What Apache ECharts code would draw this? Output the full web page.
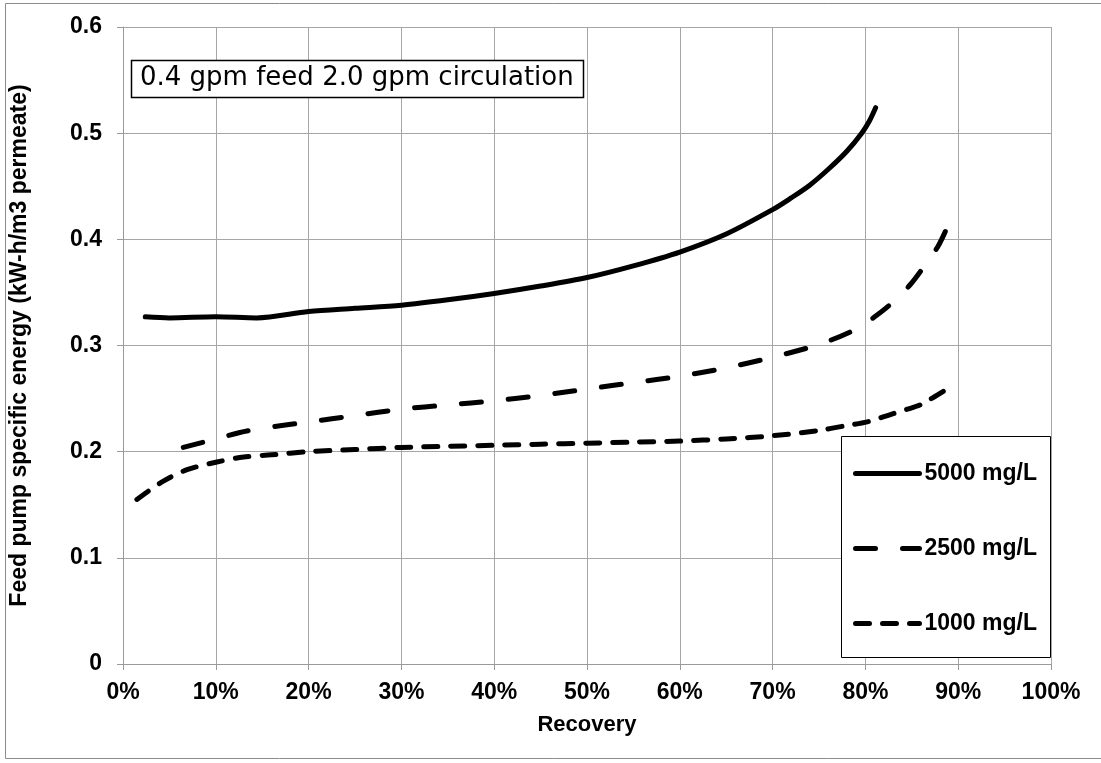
<!DOCTYPE html>
<html>
<head>
<meta charset="utf-8">
<script src="https://cdn.jsdelivr.net/npm/echarts@6/dist/echarts.min.js"></script>
<style>
html,body{margin:0;padding:0;background:#fff;}
#chart{width:1101px;height:763px;}
</style>
</head>
<body>
<div id="chart"></div>
<script>
// Recovery (%) and specific energy (kW-h/m3 permeate)
const recovery5000 = [2.4, 5, 10, 14.4, 20, 25, 30, 35, 40, 45, 50, 55, 60, 65, 70, 72, 74, 76, 78, 79.6, 80.4, 81.1];
const energy5000   = [0.327, 0.326, 0.327, 0.326, 0.332, 0.335, 0.338, 0.343, 0.349, 0.356, 0.364, 0.375, 0.388, 0.405, 0.428, 0.439, 0.451, 0.466, 0.483, 0.500, 0.511, 0.524];

const recovery2500 = [6.5, 10, 12.6, 15, 20, 25, 30, 35, 40, 45, 50, 55, 60, 65, 70, 75, 78.9, 81, 83, 84.8, 86.2, 87.8, 88.8];
const energy2500   = [0.204, 0.212, 0.218, 0.222, 0.228, 0.234, 0.240, 0.244, 0.248, 0.253, 0.259, 0.265, 0.271, 0.279, 0.289, 0.301, 0.315, 0.327, 0.341, 0.357, 0.373, 0.393, 0.411];

const recovery1000 = [1.5, 4.3, 6.9, 10, 13, 16, 20, 25, 30, 35, 40, 45, 50, 55, 60, 65, 70, 75, 77.6, 80.2, 82.7, 84.5, 85.9, 87.3, 88.8];
const energy1000   = [0.155, 0.172, 0.183, 0.190, 0.195, 0.197, 0.200, 0.202, 0.204, 0.205, 0.206, 0.207, 0.208, 0.209, 0.210, 0.212, 0.215, 0.220, 0.224, 0.228, 0.235, 0.240, 0.244, 0.251, 0.259];

const seriesNames = ['5000 mg/L', '2500 mg/L', '1000 mg/L'];
const xTicks = {min: 0, max: 100, interval: 10};
const yTicks = {min: 0, max: 0.6, interval: 0.1};
const chartNote = '0.4 gpm feed 2.0 gpm circulation';
const xName = 'Recovery';
const yName = 'Feed pump specific energy (kW-h/m3 permeate)';

function pairs(xs, ys) { return xs.map((x, i) => [x, ys[i]]); }

const FONT = 'Liberation Sans, Arial, sans-serif';
const chart = echarts.init(document.getElementById('chart'), null, {renderer: 'canvas'});

const dashStyles = [
  {type: 'solid'},
  {type: [20, 27]},
  {type: [14, 13]}
];
const dataSets = [pairs(recovery5000, energy5000), pairs(recovery2500, energy2500), pairs(recovery1000, energy1000)];

chart.setOption({
  animation: false,
  backgroundColor: '#fff',
  grid: {left: 123, right: 50, top: 27, bottom: 99, containLabel: false},
  xAxis: {
    type: 'value', min: xTicks.min, max: xTicks.max, interval: xTicks.interval,
    name: xName, nameLocation: 'middle', nameGap: 50,
    nameTextStyle: {color: '#000', fontFamily: FONT, fontWeight: 'bold', fontSize: 22},
    axisLine: {show: true, lineStyle: {color: '#9a9a9a', width: 1}},
    axisTick: {show: true, length: 6, lineStyle: {color: '#9a9a9a'}},
    axisLabel: {color: '#000', fontFamily: FONT, fontWeight: 'bold', fontSize: 23, margin: 17, formatter: v => v + '%'},
    splitLine: {show: true, lineStyle: {color: '#a6a6a6', width: 1}}
  },
  yAxis: {
    type: 'value', min: yTicks.min, max: yTicks.max, interval: yTicks.interval,
    name: yName, nameLocation: 'middle', nameGap: 92, nameRotate: 90,
    nameTextStyle: {color: '#000', fontFamily: FONT, fontWeight: 'bold', fontSize: 23},
    axisLine: {show: true, lineStyle: {color: '#9a9a9a', width: 1}},
    axisTick: {show: true, length: 6, lineStyle: {color: '#9a9a9a'}},
    axisLabel: {color: '#000', fontFamily: FONT, fontWeight: 'bold', fontSize: 23, margin: 21,
      formatter: v => v === 0 ? '0' : v.toFixed(1)},
    splitLine: {show: true, lineStyle: {color: '#a6a6a6', width: 1}}
  },
  legend: {
    orient: 'vertical', left: 853, top: 462, padding: 0, z: 10,
    itemWidth: 64, itemHeight: 14, itemGap: 52,
    data: seriesNames,
    itemStyle: {opacity: 0, borderWidth: 0},
    lineStyle: {width: 5, cap: 'round'},
    textStyle: {color: '#000', fontFamily: FONT, fontWeight: 'bold', fontSize: 23}
  },
  graphic: [
    {type: 'rect', shape: {x: 5.5, y: 3.5, width: 1100, height: 755}, style: {fill: 'none', stroke: '#8c8c8c', lineWidth: 1}, z: -10, silent: true},
    {type: 'rect', shape: {x: 841.5, y: 436.5, width: 209, height: 221}, style: {fill: '#fff', stroke: '#000', lineWidth: 1}, z: 1, silent: true},
    {type: 'rect', shape: {x: 131.5, y: 60.5, width: 452, height: 37}, style: {fill: '#fff', stroke: '#000', lineWidth: 1.5}, z: 1, silent: true},
    {type: 'text', left: 140, top: 65, z: 2, silent: true,
      style: {text: chartNote, fill: '#000', font: '26px "DejaVu Sans", sans-serif'}}
  ],
  series: seriesNames.map((n, i) => ({
    name: n, type: 'line', data: dataSets[i], smooth: 0.3, showSymbol: false, symbol: 'none',
    z: 3,
    lineStyle: Object.assign({color: '#000', width: 5, cap: 'round', join: 'round'}, dashStyles[i]),
    itemStyle: {color: '#000'}
  }))
});
</script>
</body>
</html>
